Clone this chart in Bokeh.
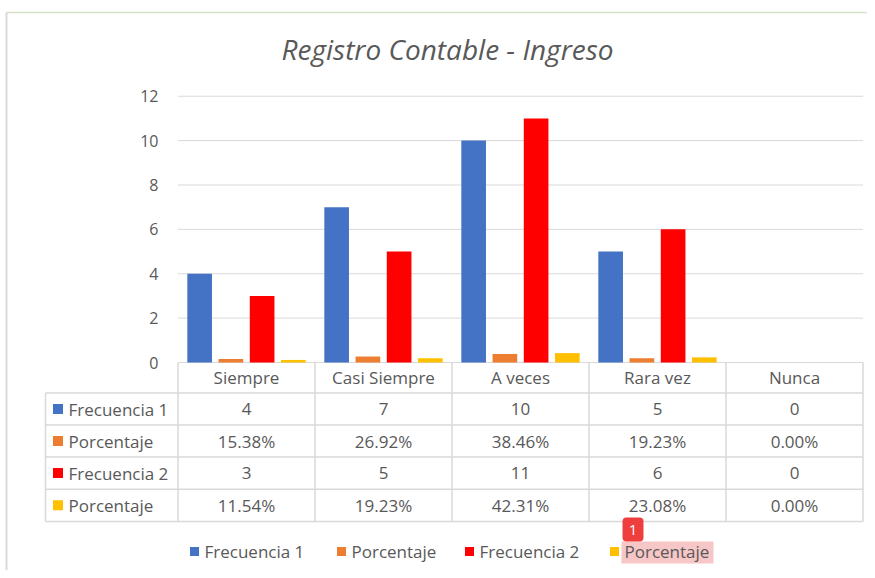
from bokeh.plotting import figure
from bokeh.models import Range1d
from bokeh.core.properties import value
from bokeh.embed import file_html
from bokeh.resources import INLINE

# ---------------- data ----------------
title_text = "Registro Contable - Ingreso"
categories = ["Siempre", "Casi Siempre", "A veces", "Rara vez", "Nunca"]
series_names = ["Frecuencia 1", "Porcentaje", "Frecuencia 2", "Porcentaje"]
frecuencia_1 = [4, 7, 10, 5, 0]
porcentaje_1 = [0.1538, 0.2692, 0.3846, 0.1923, 0.0]
frecuencia_2 = [3, 5, 11, 6, 0]
porcentaje_2 = [0.1154, 0.1923, 0.4231, 0.2308, 0.0]
series_values = [frecuencia_1, porcentaje_1, frecuencia_2, porcentaje_2]
series_is_pct = [False, True, False, True]
y_ticks = [0, 2, 4, 6, 8, 10, 12]
badge_text = "1"

# ---------------- styles / layout ----------------
colors = ["#4472C4", "#ED7D31", "#FF0000", "#FFC000"]
TXT = "#595959"
LINE = "#d9d9d9"
FONT = value("Open Sans")
W, H = 867, 570
ORIGIN = 0                 # screenshot px of canvas origin
X0, XW = 177.5, 137.0      # px of category 0 start, px per category
Y0, YU = 362.0, 22.19      # px of value 0, px per unit


def dx(px):
    return (px - X0) / XW


def dy(py):
    return (Y0 - py) / YU


p = figure(width=W, height=H, output_backend="svg", toolbar_location=None,
           x_range=Range1d(dx(ORIGIN), dx(ORIGIN + W)),
           y_range=Range1d(dy(ORIGIN + H), dy(ORIGIN)),
           x_axis_type=None, y_axis_type=None, min_border=0)
p.outline_line_color = None
p.background_fill_color = "white"
p.border_fill_color = "white"

n = len(categories)
centers = [i + 0.5 for i in range(n)]

# chart area border
p.segment(x0=[dx(6)], x1=[dx(ORIGIN + W)], y0=[dy(12)], y1=[dy(12)],
          line_color="#d5e3c8", line_width=1.5)
p.segment(x0=[dx(6)], x1=[dx(6)], y0=[dy(12)], y1=[dy(ORIGIN + H)],
          line_color=LINE, line_width=2)

# title
p.text(x=[dx(447)], y=[dy(48)], text=[title_text], text_font=FONT,
       text_font_size="28px", text_font_style="italic", text_color=TXT,
       text_align="center", text_baseline="middle")

# gridlines
p.segment(x0=[0] * len(y_ticks), x1=[n] * len(y_ticks), y0=y_ticks, y1=y_ticks,
          line_color=LINE, line_width=1)
p.text(x=[dx(158)] * len(y_ticks), y=y_ticks, text=[str(t) for t in y_ticks],
       text_font=FONT, text_font_size="16px", text_color=TXT,
       text_align="right", text_baseline="middle")

# bars
offsets = [-0.342, -0.114, 0.114, 0.342]
for vals, col, off in zip(series_values, colors, offsets):
    p.vbar(x=[c + off for c in centers], top=vals, width=0.18, bottom=0,
           fill_color=col, line_color=None)

# data table
row_lines = [362, 392.5, 424.5, 456.5, 488.7, 521]
left_px = 45
p.segment(x0=[dx(left_px)] * 5, x1=[n] * 5, y0=[dy(r) for r in row_lines[1:]],
          y1=[dy(r) for r in row_lines[1:]], line_color=LINE, line_width=1.5)
p.segment(x0=list(range(n + 1)), x1=list(range(n + 1)), y0=[0] * (n + 1),
          y1=[dy(row_lines[-1])] * (n + 1), line_color=LINE, line_width=1.5)
p.segment(x0=[dx(left_px)], x1=[dx(left_px)], y0=[dy(row_lines[1])],
          y1=[dy(row_lines[-1])], line_color=LINE, line_width=1.5)

row_c = [(row_lines[i] + row_lines[i + 1]) / 2 for i in range(len(row_lines) - 1)]
p.text(x=centers, y=[dy(row_c[0])] * n, text=categories, text_font=FONT,
       text_font_size="17px", text_color=TXT, text_align="center",
       text_baseline="middle")
for k, (name, vals, pct, col) in enumerate(zip(series_names, series_values,
                                               series_is_pct, colors)):
    yc = dy(row_c[k + 1])
    p.scatter(x=[dx(57.5)], y=[yc], marker="square", size=10,
              fill_color=col, line_color=None)
    p.text(x=[dx(68)], y=[yc], text=[name], text_font=FONT, text_font_size="17px",
           text_color=TXT, text_align="left", text_baseline="middle")
    labels = [f"{v * 100:.2f}%" if pct else str(v) for v in vals]
    p.text(x=centers, y=[yc] * n, text=labels, text_font=FONT,
           text_font_size="17px", text_color=TXT, text_align="center",
           text_baseline="middle")

# legend
leg_sq = [194, 341, 469, 614]
leg_y = dy(551)
# highlight + badge over last legend entry
p.quad(left=[dx(621)], right=[dx(713)], top=[dy(541)], bottom=[dy(563)],
       fill_color="#f7c6c6", line_color=None)
p.quad(left=[dx(622)], right=[dx(643)], top=[dy(517)], bottom=[dy(541)],
       fill_color="#ef3e3e", line_color=None, border_radius=4)
p.text(x=[dx(632.5)], y=[dy(529.5)], text=[badge_text], text_font=FONT,
       text_font_size="15px", text_color="white", text_align="center",
       text_baseline="middle")
for name, col, sx in zip(series_names, colors, leg_sq):
    p.scatter(x=[dx(sx)], y=[leg_y], marker="square", size=9,
              fill_color=col, line_color=None)
    p.text(x=[dx(sx + 10)], y=[leg_y], text=[name], text_font=FONT,
           text_font_size="17px", text_color=TXT, text_align="left",
           text_baseline="middle")

open("out.html", "w").write(file_html(p, INLINE))
